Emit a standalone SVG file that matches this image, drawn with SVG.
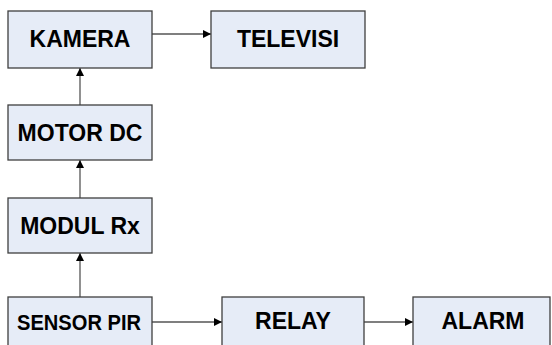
<svg xmlns="http://www.w3.org/2000/svg" width="552" height="345" viewBox="0 0 552 345">
  <style>
    .box { fill: #e6ecf7; stroke: #3f3f3f; stroke-width: 1.3; }
    .lbl { font-family: "Liberation Sans", Arial, sans-serif; font-weight: bold; font-size: 23px; fill: #000; text-anchor: middle; }
    .small { font-size: 21.5px; }
    .wire { stroke: #555; stroke-width: 1.3; fill: none; marker-end: url(#head); }
  </style>
  <defs>
    <marker id="head" viewBox="0 0 10 10" refX="10" refY="5" markerWidth="8" markerHeight="8" markerUnits="userSpaceOnUse" orient="auto">
      <path d="M0,0 L10,5 L0,10 Z" fill="#000"/>
    </marker>
  </defs>

  <rect width="552" height="345" fill="#fff"/>

  <g id="connectors">
    <path class="wire" d="M152,34 H211"/>
    <path class="wire" d="M80,105 V68"/>
    <path class="wire" d="M80,198 V160"/>
    <path class="wire" d="M80,297 V253"/>
    <path class="wire" d="M152,322 H222"/>
    <path class="wire" d="M364,322 H413"/>
  </g>

  <g id="kamera">
    <rect class="box" x="8" y="11" width="144" height="57"/>
    <text class="lbl" x="80" y="47.3">KAMERA</text>
  </g>
  <g id="televisi">
    <rect class="box" x="211" y="11" width="154" height="57"/>
    <text class="lbl" x="288" y="47.3">TELEVISI</text>
  </g>
  <g id="motor-dc">
    <rect class="box" x="8" y="105" width="144" height="55"/>
    <text class="lbl" x="80" y="140.5">MOTOR DC</text>
  </g>
  <g id="modul-rx">
    <rect class="box" x="8" y="198" width="144" height="55"/>
    <text class="lbl" x="80" y="233.5">MODUL Rx</text>
  </g>
  <g id="sensor-pir">
    <rect class="box" x="8" y="297" width="144" height="60"/>
    <text class="lbl small" x="79" y="330" textLength="124" lengthAdjust="spacingAndGlyphs">SENSOR PIR</text>
  </g>
  <g id="relay">
    <rect class="box" x="222" y="297" width="142" height="60"/>
    <text class="lbl" x="293" y="329">RELAY</text>
  </g>
  <g id="alarm">
    <rect class="box" x="413" y="297" width="137" height="60"/>
    <text class="lbl" x="483" y="329">ALARM</text>
  </g>
</svg>
